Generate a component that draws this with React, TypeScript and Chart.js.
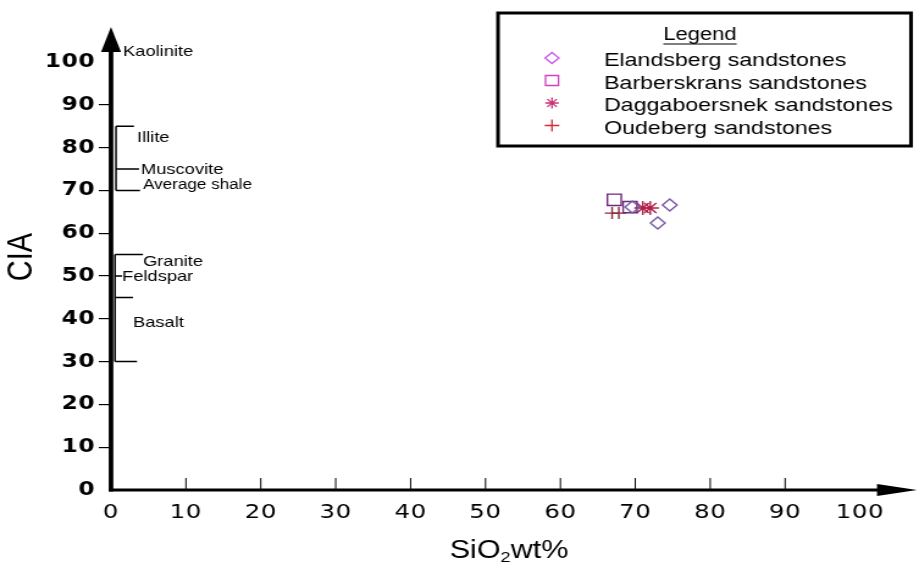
import React, { useEffect, useRef } from 'react';
import { Chart, registerables } from 'chart.js';

Chart.register(...registerables);

// ---------- data ----------
const SERIES_NAMES = [
  'Elandsberg sandstones',
  'Barberskrans sandstones',
  'Daggaboersnek sandstones',
  'Oudeberg sandstones',
];

const ELANDSBERG_SIO2 = [74.6, 73.0, 69.6];
const ELANDSBERG_CIA = [66.6, 62.4, 66.1];

const BARBERSKRANS_SIO2 = [67.2, 69.3];
const BARBERSKRANS_CIA = [67.8, 66.1];

const DAGGABOERSNEK_SIO2 = [71.0, 72.0];
const DAGGABOERSNEK_CIA = [65.9, 65.9];

const OUDEBERG_SIO2 = [66.9, 67.8];
const OUDEBERG_CIA = [64.7, 64.7];

const AXIS_MIN = 0;
const AXIS_MAX = 100;
const AXIS_STEP = 10;

const X_TITLE_MAIN = 'SiO';
const X_TITLE_SUB = '2';
const X_TITLE_TAIL = 'wt%';
const Y_TITLE = 'CIA';
const LEGEND_TITLE = 'Legend';

// reference minerals on the CIA axis
const MINERAL_LABELS = ['Kaolinite', 'Illite', 'Muscovite', 'Average shale', 'Granite', 'Feldspar', 'Basalt'];
const MINERAL_LABEL_CIA = [102.3, 82.2, 74.8, 71.3, 53.3, 49.8, 39.0];
const UPPER_BRACKET_CIA = [85, 75, 70];
const LOWER_BRACKET_CIA = [55, 50, 45, 30];

// ---------- styles / layout (reference pixel units) ----------
const W = 919;
const H = 562;
const CANVAS_W = 753; // drawn narrower, then stretched to W like the reference
const S = W / CANVAS_W;
const hx = (v: number) => v / S;

const PLOT_LEFT = 111;
const PLOT_RIGHT = 860;
const PLOT_TOP = 62;
const PLOT_BOTTOM = 490;

const MINERAL_TEXT_X = [123, 137, 141, 143, 143, 122, 133];
const MINERAL_FONT = [15, 15, 15, 14, 15, 15, 15];
const UPPER_BRACKET_X = 116;
const UPPER_BRACKET_LEN = [18, 23, 24];
const LOWER_BRACKET_X = 115;
const LOWER_BRACKET_LEN = [28, 7, 18, 22];

const PLOT_COLORS = ['#7b5aa6', '#6e2a78', '#b02048', '#8c2a3c'];
const LEGEND_COLORS = ['#cc55ee', '#cc44bb', '#cc3377', '#d42a3c'];
const POINT_STYLES = ['rectRot', 'rect', 'star', 'cross'];
const POINT_RADII = [6, 8, 7, 6];

const SANS = '"Liberation Sans", Arial, Helvetica, sans-serif';

type Shape = 'rectRot' | 'rect' | 'star' | 'cross';

function drawMarker(ctx: CanvasRenderingContext2D, shape: string, x: number, y: number, color: string) {
  ctx.save();
  ctx.strokeStyle = color;
  ctx.lineWidth = 1.3;
  ctx.beginPath();
  if (shape === 'rectRot') {
    ctx.moveTo(x, y - 5.5);
    ctx.lineTo(x + 5.7, y);
    ctx.lineTo(x, y + 5.5);
    ctx.lineTo(x - 5.7, y);
    ctx.closePath();
  } else if (shape === 'rect') {
    ctx.rect(x - 5.3, y - 5, 10.6, 10);
  } else if (shape === 'star') {
    const r = 5.5;
    for (let k = 0; k < 4; k++) {
      const a = (k * Math.PI) / 4;
      ctx.moveTo(x - Math.cos(a) * r, y - Math.sin(a) * r);
      ctx.lineTo(x + Math.cos(a) * r, y + Math.sin(a) * r);
    }
  } else {
    ctx.moveTo(x - 6, y);
    ctx.lineTo(x + 6, y);
    ctx.moveTo(x, y - 6);
    ctx.lineTo(x, y + 6);
  }
  ctx.stroke();
  ctx.restore();
}

const decorPlugin = {
  id: 'decor',
  beforeDraw(chart: any) {
    (chart.ctx as any).letterSpacing = '0.5px';
  },
  afterDraw(chart: any) {
    const ctx: CanvasRenderingContext2D = chart.ctx;
    const xs = chart.scales.x;
    const ys = chart.scales.y;
    const x0 = xs.getPixelForValue(AXIS_MIN);
    const y0 = ys.getPixelForValue(AXIS_MIN);
    ctx.save();
    (ctx as any).letterSpacing = '0px';
    ctx.fillStyle = '#000';
    ctx.strokeStyle = '#000';

    // y axis with arrow
    ctx.lineWidth = 4.6 / S;
    ctx.beginPath();
    ctx.moveTo(x0, y0 + 1.5);
    ctx.lineTo(x0, 48);
    ctx.stroke();
    ctx.beginPath();
    ctx.moveTo(x0, 27);
    ctx.lineTo(x0 - hx(10), 52);
    ctx.lineTo(x0 + hx(10), 52);
    ctx.closePath();
    ctx.fill();

    // x axis with arrow
    ctx.lineWidth = 2.8;
    ctx.beginPath();
    ctx.moveTo(x0 - 2 / S, y0);
    ctx.lineTo(hx(880), y0);
    ctx.stroke();
    ctx.beginPath();
    ctx.moveTo(hx(917), y0);
    ctx.lineTo(hx(877), y0 - 6);
    ctx.lineTo(hx(877), y0 + 6);
    ctx.closePath();
    ctx.fill();

    // x ticks pointing up
    ctx.lineWidth = 1;
    xs.ticks.forEach((t: any) => {
      if (t.value > AXIS_MIN && t.value < AXIS_MAX) {
        const p = xs.getPixelForValue(t.value);
        ctx.beginPath();
        ctx.moveTo(p, y0);
        ctx.lineTo(p, y0 - 12);
        ctx.stroke();
      }
    });

    // mineral brackets
    ctx.lineWidth = 1.5;
    const ub = hx(UPPER_BRACKET_X);
    ctx.beginPath();
    ctx.moveTo(ub, ys.getPixelForValue(UPPER_BRACKET_CIA[0]));
    ctx.lineTo(ub, ys.getPixelForValue(UPPER_BRACKET_CIA[UPPER_BRACKET_CIA.length - 1]));
    UPPER_BRACKET_CIA.forEach((v, i) => {
      const py = ys.getPixelForValue(v);
      ctx.moveTo(ub, py);
      ctx.lineTo(hx(UPPER_BRACKET_X + UPPER_BRACKET_LEN[i]), py);
    });
    const lb = hx(LOWER_BRACKET_X);
    ctx.moveTo(lb, ys.getPixelForValue(LOWER_BRACKET_CIA[0]));
    ctx.lineTo(lb, ys.getPixelForValue(LOWER_BRACKET_CIA[LOWER_BRACKET_CIA.length - 1]));
    LOWER_BRACKET_CIA.forEach((v, i) => {
      const py = ys.getPixelForValue(v);
      ctx.moveTo(lb, py);
      ctx.lineTo(hx(LOWER_BRACKET_X + LOWER_BRACKET_LEN[i]), py);
    });
    ctx.stroke();

    ctx.textAlign = 'left';
    ctx.textBaseline = 'middle';
    MINERAL_LABELS.forEach((label, i) => {
      ctx.font = `${MINERAL_FONT[i]}px ${SANS}`;
      ctx.fillText(label, hx(MINERAL_TEXT_X[i]), ys.getPixelForValue(MINERAL_LABEL_CIA[i]));
    });

    // y title
    ctx.save();
    ctx.translate(hx(21.5), 257);
    ctx.rotate(-Math.PI / 2);
    ctx.font = `29px ${SANS}`;
    ctx.textAlign = 'center';
    ctx.textBaseline = 'middle';
    ctx.fillText(Y_TITLE, 0, 0);
    ctx.restore();

    // x title with subscript
    ctx.textBaseline = 'alphabetic';
    ctx.font = `25px ${SANS}`;
    const w1 = ctx.measureText(X_TITLE_MAIN).width;
    const w3 = ctx.measureText(X_TITLE_TAIL).width;
    ctx.font = `15px ${SANS}`;
    const w2 = ctx.measureText(X_TITLE_SUB).width;
    const total = w1 + w2 + w3;
    let tx = hx(509) - total / 2;
    const base = 558;
    ctx.font = `25px ${SANS}`;
    ctx.fillText(X_TITLE_MAIN, tx, base);
    tx += w1;
    ctx.font = `15px ${SANS}`;
    ctx.fillText(X_TITLE_SUB, tx, base + 4);
    tx += w2;
    ctx.font = `25px ${SANS}`;
    ctx.fillText(X_TITLE_TAIL, tx, base);

    // legend box
    const lx1 = hx(498);
    const lx2 = hx(911);
    ctx.fillStyle = '#fff';
    ctx.fillRect(lx1, 13, lx2 - lx1, 133);
    ctx.lineWidth = 3;
    ctx.strokeStyle = '#000';
    ctx.strokeRect(lx1, 13, lx2 - lx1, 133);
    ctx.fillStyle = '#000';
    ctx.font = `18px ${SANS}`;
    ctx.textAlign = 'center';
    ctx.textBaseline = 'middle';
    const lcx = hx(700);
    ctx.fillText(LEGEND_TITLE, lcx, 35);
    const lw = ctx.measureText(LEGEND_TITLE).width;
    ctx.lineWidth = 1.2;
    ctx.beginPath();
    ctx.moveTo(lcx - lw / 2, 44);
    ctx.lineTo(lcx + lw / 2, 44);
    ctx.stroke();

    ctx.textAlign = 'left';
    ctx.font = `19px ${SANS}`;
    chart.data.datasets.forEach((ds: any, i: number) => {
      const rowText = 61 + i * 22.5;
      const rowMark = 58 + i * 22.5;
      drawMarker(ctx, POINT_STYLES[i], hx(552), rowMark, LEGEND_COLORS[i]);
      ctx.fillStyle = '#000';
      ctx.fillText(ds.label, hx(604), rowText);
    });

    ctx.restore();
  },
};

function makeSeries(xs: number[], ys: number[]) {
  return xs.map((x, i) => ({ x, y: ys[i] }));
}

export default function App() {
  const canvasRef = useRef<HTMLCanvasElement>(null);

  useEffect(() => {
    const canvas = canvasRef.current;
    if (!canvas) return;
    const seriesData = [
      makeSeries(ELANDSBERG_SIO2, ELANDSBERG_CIA),
      makeSeries(BARBERSKRANS_SIO2, BARBERSKRANS_CIA),
      makeSeries(DAGGABOERSNEK_SIO2, DAGGABOERSNEK_CIA),
      makeSeries(OUDEBERG_SIO2, OUDEBERG_CIA),
    ];
    const chart = new Chart(canvas, {
      type: 'scatter',
      data: {
        datasets: seriesData.map((data, i) => ({
          label: SERIES_NAMES[i],
          data,
          pointStyle: POINT_STYLES[i] as Shape,
          pointRadius: POINT_RADII[i],
          pointBorderColor: PLOT_COLORS[i],
          pointBackgroundColor: 'rgba(0,0,0,0)',
          pointBorderWidth: 1.4,
          borderColor: PLOT_COLORS[i],
          backgroundColor: 'rgba(0,0,0,0)',
          showLine: false,
        })),
      },
      options: {
        responsive: false,
        animation: false,
        devicePixelRatio: 1,
        events: [],
        layout: {
          padding: { top: PLOT_TOP, right: hx(W - PLOT_RIGHT), left: 0, bottom: 0 },
        },
        plugins: {
          legend: { display: false },
          tooltip: { enabled: false },
          title: { display: false },
        },
        scales: {
          x: {
            type: 'linear',
            min: AXIS_MIN,
            max: AXIS_MAX,
            afterFit: (scale: any) => {
              scale.height = H - PLOT_BOTTOM;
            },
            ticks: {
              stepSize: AXIS_STEP,
              autoSkip: false,
              maxRotation: 0,
              color: '#000',
              padding: 11,
              font: { family: '"DejaVu Sans", sans-serif', size: 20 },
            },
            grid: { display: false, drawTicks: false },
            border: { display: false },
            title: { display: false },
          },
          y: {
            type: 'linear',
            min: AXIS_MIN,
            max: AXIS_MAX,
            afterFit: (scale: any) => {
              scale.width = hx(PLOT_LEFT);
            },
            ticks: {
              stepSize: AXIS_STEP,
              autoSkip: false,
              color: '#000',
              padding: 3,
              font: { family: '"DejaVu Sans", sans-serif', size: 19, weight: 'bold' },
            },
            grid: {
              display: true,
              drawOnChartArea: false,
              drawTicks: true,
              tickLength: 10,
              lineWidth: 1.2,
              color: (c: any) =>
                c.tick && (c.tick.value === AXIS_MIN || c.tick.value === AXIS_MAX) ? 'rgba(0,0,0,0)' : '#000',
            },
            border: { display: false },
            title: { display: false },
          },
        },
      } as any,
      plugins: [decorPlugin],
    });
    return () => chart.destroy();
  }, []);

  return (
    <div style={{ position: 'absolute', left: 0, top: 0, width: W, height: H, background: '#fff' }}>
      <canvas
        ref={canvasRef}
        width={CANVAS_W}
        height={H}
        style={{ width: `${W}px`, height: `${H}px`, display: 'block' }}
      />
    </div>
  );
}
